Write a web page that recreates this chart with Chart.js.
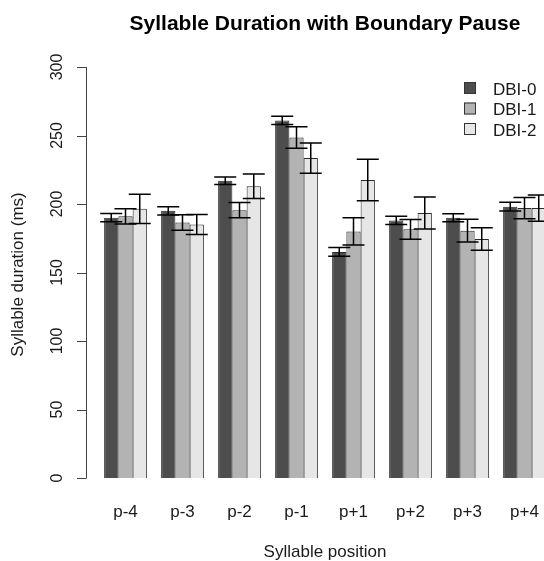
<!DOCTYPE html>
<html>
<head>
<meta charset="utf-8">
<script src="https://cdn.jsdelivr.net/npm/chart.js@4/dist/chart.umd.min.js"></script>
<style>
  html, body { margin: 0; padding: 0; background: #fff; overflow: hidden; }
  #wrap { width: 648px; height: 561px; }
</style>
</head>
<body>
<div id="wrap"><canvas id="chart" width="648" height="561"></canvas></div>
<script>
// data (ms)
const positions = ["p-4", "p-3", "p-2", "p-1", "p+1", "p+2", "p+3", "p+4"];
const seriesNames = ["DBI-0", "DBI-1", "DBI-2"];
const dbi0 = [190, 195, 217, 261, 165, 188, 190, 198];
const dbi1 = [191, 186.5, 195.5, 248.5, 180, 181.5, 180.5, 197];
const dbi2 = [196.5, 185, 213, 233.5, 217.5, 193.5, 174.5, 197];
const dbi0Err = [3, 3, 2.7, 3, 3.2, 3, 2.9, 3.2];
const dbi1Err = [5.6, 5.6, 5.6, 7.8, 10, 7.2, 8.3, 7.7];
const dbi2Err = [10.7, 7.3, 8.9, 11, 15.2, 11.7, 8.2, 9.6];
const yTicks = [0, 50, 100, 150, 200, 250, 300];

const fills = ["#4d4d4d", "#b3b3b3", "#e6e6e6"];
const font = "'Liberation Sans', Arial, sans-serif";
const errs = [dbi0Err, dbi1Err, dbi2Err];

// error bars, R style y axis and legend
const extras = {
    id: "extras",
    afterDatasetsDraw(chart) {
        let ctx = chart.ctx;
        let y = chart.scales.y;
        ctx.save();
        ctx.strokeStyle = "#000";
        ctx.lineWidth = 1.5;
        chart.data.datasets.forEach(function (ds, i) {
            let meta = chart.getDatasetMeta(i);
            meta.data.forEach(function (bar, j) {
                let v = ds.data[j], e = errs[i][j];
                let hi = y.getPixelForValue(v + e);
                let lo = y.getPixelForValue(v - e);
                ctx.beginPath();
                ctx.moveTo(bar.x, hi); ctx.lineTo(bar.x, lo);
                ctx.moveTo(bar.x - 11, hi); ctx.lineTo(bar.x + 11, hi);
                ctx.moveTo(bar.x - 11, lo); ctx.lineTo(bar.x + 11, lo);
                ctx.stroke();
            });
        });
        ctx.restore();
    },
    afterDraw(chart) {
        let ctx = chart.ctx;
        let y = chart.scales.y;
        let ax = 86;
        ctx.save();
        // axis line + ticks
        ctx.strokeStyle = "#444";
        ctx.lineWidth = 1;
        ctx.beginPath();
        ctx.moveTo(ax + 0.5, y.getPixelForValue(0));
        ctx.lineTo(ax + 0.5, y.getPixelForValue(300));
        yTicks.forEach(function (t) {
            let py = Math.round(y.getPixelForValue(t)) + 0.5;
            ctx.moveTo(ax + 0.5, py);
            ctx.lineTo(ax - 9, py);
        });
        ctx.stroke();
        // rotated tick labels
        ctx.fillStyle = "#1a1a1a";
        ctx.font = "16px " + font;
        ctx.textAlign = "center";
        ctx.textBaseline = "middle";
        yTicks.forEach(function (t) {
            ctx.save();
            ctx.translate(58, y.getPixelForValue(t));
            ctx.rotate(-Math.PI / 2);
            ctx.fillText(String(t), 0, 0);
            ctx.restore();
        });
        // axis title
        ctx.font = "17px " + font;
        ctx.save();
        ctx.translate(18, (y.top + y.bottom) / 2 + 2);
        ctx.rotate(-Math.PI / 2);
        ctx.fillText("Syllable duration (ms)", 0, 0);
        ctx.restore();
        // legend
        ctx.textAlign = "left";
        seriesNames.forEach(function (name, i) {
            let cy = 88 + i * 20.5;
            ctx.fillStyle = fills[i];
            ctx.fillRect(464, cy - 6, 12, 12);
            ctx.strokeStyle = "#333";
            ctx.strokeRect(464.5, cy - 5.5, 11, 11);
            ctx.fillStyle = "#1a1a1a";
            ctx.fillText(name, 493, cy + 2);
        });
        ctx.restore();
    }
};

new Chart(document.getElementById("chart"), {
    type: "bar",
    data: {
        labels: positions,
        datasets: [
            { label: seriesNames[0], data: dbi0, backgroundColor: fills[0] },
            { label: seriesNames[1], data: dbi1, backgroundColor: fills[1] },
            { label: seriesNames[2], data: dbi2, backgroundColor: fills[2] },
        ].map(function (d) {
            d.borderColor = "#2b2b2b";
            d.borderWidth = 1;
            d.categoryPercentage = 0.75;
            d.barPercentage = 1.0;
            return d;
        }),
    },
    options: {
        responsive: false,
        animation: false,
        events: [],
        layout: { padding: { left: 97, right: 95, top: 0, bottom: 0 } },
        plugins: {
            legend: { display: false },
            tooltip: { enabled: false },
            title: {
                display: true,
                text: "Syllable Duration with Boundary Pause",
                color: "#000",
                font: { family: font, size: 21, weight: "bold" },
                padding: { top: 11.4, bottom: 30.4 },
            },
        },
        scales: {
            x: {
                grid: { display: false, drawTicks: false },
                border: { display: false },
                ticks: { color: "#1a1a1a", font: { family: font, size: 17 }, padding: 24 },
                title: {
                    display: true,
                    text: "Syllable position",
                    color: "#1a1a1a",
                    font: { family: font, size: 17 },
                    padding: { top: 0, bottom: -2 },
                },
                afterFit: function (scale) { scale.height = 83; },
            },
            y: {
                display: false,
                min: 0,
                max: 300,
            },
        },
    },
    plugins: [extras],
});
</script>
</body>
</html>
